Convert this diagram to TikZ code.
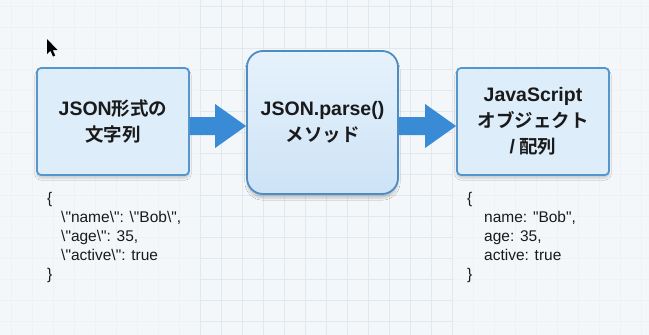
\documentclass[tikz,border=0pt]{standalone}
\usepackage{fontspec}
\setmainfont{Liberation Sans}[Ligatures=TeXOff]
\newfontfamily\jpfont[BoldFont={Noto Sans CJK JP Bold}]{Noto Sans CJK JP}
\newfontfamily\latfont{Liberation Sans}[Ligatures=TeXOff]
\newcommand{\lat}[1]{{\latfont\bfseries\fontsize{19.5}{26}\selectfont #1}}
\usetikzlibrary{calc,shadows.blur}
\definecolor{bgc}{HTML}{F4F7FA}
\definecolor{gridA}{HTML}{EEF2F5}
\definecolor{gridB}{HTML}{E1E8EE}
\definecolor{boxfill}{HTML}{DEEDFA}
\definecolor{boxline}{HTML}{5596CC}
\definecolor{midtop}{HTML}{E6F2FC}
\definecolor{midbot}{HTML}{CDE3F6}
\definecolor{midline}{HTML}{4D8DC4}
\definecolor{arrowc}{HTML}{3A8BD6}
\definecolor{txt}{HTML}{1A1A1A}
\tikzset{
  box/.style={draw=boxline, line width=1.8pt, fill=boxfill, rounded corners=4pt,
    minimum width=152pt, minimum height=107pt, align=center, inner sep=0pt,
    font=\jpfont\bfseries\fontsize{18.5}{26}\selectfont, text=txt,
    blur shadow={shadow blur steps=6, shadow xshift=0pt, shadow yshift=-3pt, shadow opacity=18}},
  midbox/.style={draw=midline, line width=1.8pt, top color=midtop, bottom color=midbot,
    rounded corners=16pt, minimum width=151pt, minimum height=143pt, align=center, inner sep=0pt,
    font=\jpfont\bfseries\fontsize{18.5}{26}\selectfont, text=txt,
    blur shadow={shadow blur steps=6, shadow xshift=0pt, shadow yshift=-4pt, shadow opacity=20}},
  code/.style={align=left, inner sep=0pt, anchor=north west, text=txt,
    font=\fontsize{15.5}{19}\selectfont},
  fatarrow/.style={fill=arrowc},
}
\begin{document}
\begin{tikzpicture}[x=1pt,y=-1pt]
\useasboundingbox (0,0) rectangle (649,335);
\fill[bgc] (0,0) rectangle (649,335);
% faint grid everywhere
\foreach \i in {0,...,30} \draw[gridA, line width=0.5pt] (11+21*\i,0) -- (11+21*\i,335);
\foreach \j in {0,...,15} \draw[gridA, line width=0.5pt] (0,6+21*\j) -- (649,6+21*\j);
% stronger grid in centre
\foreach \i in {9,...,21} \draw[gridB, line width=0.6pt] (11+21*\i,0) -- (11+21*\i,335);
\foreach \j in {0,...,15} \draw[gridB, line width=0.6pt] (200,6+21*\j) -- (452,6+21*\j);

% boxes
\node[box] (src) at (113,121.5) {\lat{JSON}形式の\\文字列};
\node[midbox] (mid) at (322.5,122.5) {\lat{JSON.parse()}\\メソッド};
\node[box] (dst) at (533,121.5) {\lat{JavaScript}\\オブジェクト\\\lat{/} 配列};

% arrows
\fill[fatarrow] let \p1=(src.east), \p2=(mid.west) in
  (\x1,-117pt) -- (\x2-31pt,-117pt) -- (\x2-31pt,-104pt) -- (\x2,-126pt)
  -- (\x2-31pt,-148pt) -- (\x2-31pt,-135pt) -- (\x1,-135pt) -- cycle;
\fill[fatarrow] let \p1=(mid.east), \p2=(dst.west) in
  (\x1,-117pt) -- (\x2-31pt,-117pt) -- (\x2-31pt,-104pt) -- (\x2,-126pt)
  -- (\x2-31pt,-148pt) -- (\x2-31pt,-135pt) -- (\x1,-135pt) -- cycle;

% code texts
\node[code] (jsonc) at (47,191) {\rule{0pt}{12pt}\{\\
\hspace*{14pt}\textbackslash"name\textbackslash": \textbackslash"Bob\textbackslash",\\
\hspace*{14pt}\textbackslash"age\textbackslash": 35,\\
\hspace*{14pt}\textbackslash"active\textbackslash": true\\
\}};
\node[code] (jsc) at (467,191) {\rule{0pt}{12pt}\{\\
\hspace*{17pt}name: "Bob",\\
\hspace*{17pt}age: 35,\\
\hspace*{17pt}active: true\\
\}};

% mouse cursor
\fill[black] (47,39) -- (47,54) -- (50.5,50.8) -- (53,56.5) -- (55.2,55.5) -- (52.7,50) -- (57.5,50) -- cycle;
\end{tikzpicture}
\end{document}
